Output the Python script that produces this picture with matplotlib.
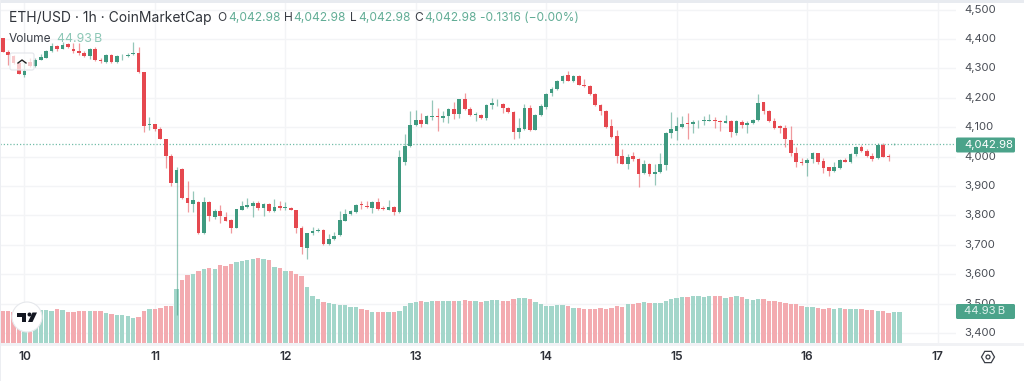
import numpy as np
import matplotlib
matplotlib.use("Agg")
import matplotlib.pyplot as plt
from matplotlib.patches import Circle, FancyBboxPatch, Polygon, RegularPolygon
from matplotlib.transforms import Affine2D

plt.rcParams['font.family'] = ['Inter', 'DejaVu Sans']

# hourly candles, first one 4h before the 10th
first_hour = -4
opens = [4405, 4357, 4342, 4317, 4276, 4323, 4308, 4329, 4337, 4359, 4377, 4366, 4383, 4365, 4359, 4353, 4343, 4366, 4328, 4323,
         4345, 4322, 4342, 4343, 4348, 4354, 4287, 4106, 4110, 4095, 4060, 4002, 3912, 3957, 3858, 3839, 3847, 3739, 3847, 3794,
         3816, 3796, 3784, 3758, 3818, 3830, 3832, 3841, 3826, 3838, 3814, 3831, 3825, 3826, 3819, 3757, 3691, 3739, 3748, 3751,
         3702, 3719, 3732, 3782, 3804, 3812, 3838, 3833, 3827, 3847, 3824, 3820, 3830, 3812, 3983, 4036, 4106, 4125, 4112, 4136,
         4138, 4133, 4138, 4163, 4145, 4195, 4163, 4140, 4143, 4130, 4175, 4181, 4180, 4166, 4153, 4085, 4094, 4165, 4092, 4141,
         4168, 4215, 4229, 4257, 4279, 4258, 4274, 4245, 4240, 4213, 4176, 4156, 4104, 4069, 4002, 3976, 4001, 3991, 3943, 3974,
         3942, 3947, 3972, 4079, 4087, 4100, 4116, 4110, 4120, 4120, 4121, 4125, 4121, 4115, 4121, 4082, 4118, 4108, 4113, 4124,
         4185, 4156, 4122, 4104, 4098, 4058, 4011, 3982, 3980, 3991, 4011, 3984, 3964, 3951, 3963, 3988, 3983, 4009, 4033, 4019,
         4003, 3994, 4040, 4001, 4041.5, 4041.5]
closes = [4357, 4346, 4317, 4281, 4292, 4308, 4329, 4338, 4359, 4377, 4366, 4381, 4374, 4358, 4351, 4342, 4365, 4328, 4324, 4344,
          4322, 4342, 4343, 4347, 4354, 4287, 4104, 4112, 4093, 4061, 4003, 3912, 3955, 3858, 3841, 3852, 3739, 3847, 3798, 3816,
          3798, 3782, 3758, 3821, 3832, 3836, 3842, 3826, 3839, 3814, 3830, 3826, 3829, 3819, 3758, 3692, 3739, 3748, 3752, 3702,
          3719, 3731, 3785, 3805, 3816, 3835, 3834, 3828, 3847, 3823, 3822, 3829, 3812, 4000, 4036, 4109, 4125, 4111, 4138, 4139,
          4134, 4138, 4163, 4145, 4195, 4162, 4140, 4145, 4130, 4175, 4183, 4183, 4165, 4153, 4085, 4096, 4165, 4091, 4142, 4172,
          4213, 4230, 4258, 4274, 4258, 4274, 4244, 4239, 4212, 4175, 4156, 4102, 4068, 4003, 3976, 3999, 3991, 3942, 3975, 3941,
          3947, 3974, 4082, 4093, 4104, 4111, 4110, 4118, 4122, 4123, 4123, 4121, 4118, 4121, 4083, 4121, 4108, 4113, 4125, 4184,
          4154, 4120, 4099, 4097, 4059, 4011, 3983, 3977, 3989, 4012, 3982, 3962, 3951, 3964, 3988, 3983, 4010, 4033, 4019, 4003,
          3993, 4041, 4000, 3998, 4044.5, 4042.98]
highs = [4405, 4362, 4345, 4320, 4322, 4335, 4335, 4350, 4362, 4385, 4380, 4390, 4388, 4385, 4385, 4358, 4370, 4372, 4335, 4348,
         4350, 4345, 4349, 4351, 4389, 4372, 4287, 4136, 4112, 4100, 4060, 4010, 3965, 3960, 3918, 3882, 3850, 3862, 3850, 3822,
         3834, 3813, 3787, 3823, 3848, 3860, 3848, 3850, 3843, 3842, 3855, 3850, 3847, 3828, 3820, 3765, 3742, 3762, 3756, 3753,
         3738, 3745, 3816, 3822, 3820, 3840, 3848, 3849, 3850, 3861, 3832, 3852, 3833, 4024, 4077, 4154, 4157, 4148, 4140, 4194,
         4164, 4155, 4165, 4187, 4197, 4218, 4170, 4152, 4146, 4178, 4198, 4195, 4184, 4170, 4156, 4132, 4178, 4175, 4145, 4178,
         4216, 4238, 4261, 4278, 4292, 4278, 4276, 4265, 4245, 4215, 4178, 4160, 4128, 4090, 4025, 4008, 4016, 3995, 3988, 3977,
         3974, 4012, 4085, 4153, 4136, 4138, 4147, 4124, 4125, 4137, 4144, 4134, 4123, 4143, 4124, 4124, 4124, 4122, 4128, 4212,
         4187, 4158, 4130, 4109, 4106, 4104, 4032, 3996, 3994, 4015, 4014, 3996, 3966, 3981, 3991, 3995, 4013, 4036, 4038, 4025,
         4013, 4047, 4045, 4010, 4045, 4043.2]
lows = [4357, 4312, 4315, 4281, 4272, 4305, 4305, 4330, 4335, 4356, 4360, 4365, 4370, 4354, 4347, 4338, 4332, 4326, 4318, 4320,
        4319, 4319, 4330, 4340, 4345, 4286, 4083, 4090, 4086, 4059, 3960, 3900, 3462, 3855, 3812, 3813, 3737, 3737, 3782, 3788,
        3773, 3780, 3742, 3756, 3817, 3824, 3796, 3818, 3797, 3812, 3812, 3820, 3820, 3817, 3740, 3670, 3653, 3735, 3745, 3700,
        3700, 3715, 3730, 3780, 3802, 3808, 3822, 3826, 3810, 3820, 3818, 3818, 3800, 3810, 3973, 4034, 4103, 4100, 4110, 4125,
        4088, 4117, 4115, 4128, 4132, 4160, 4137, 4122, 4128, 4124, 4163, 4172, 4150, 4150, 4060, 4064, 4091, 4088, 4090, 4138,
        4162, 4206, 4227, 4250, 4256, 4255, 4242, 4236, 4210, 4173, 4142, 4097, 4062, 3980, 3974, 3958, 3986, 3896, 3941, 3935,
        3904, 3945, 3956, 4063, 4058, 4097, 4060, 4079, 4097, 4107, 4121, 4098, 4088, 4113, 4067, 4072, 4096, 4080, 4112, 4122,
        4145, 4118, 4095, 4080, 4033, 4002, 3965, 3972, 3935, 3979, 3976, 3944, 3935, 3949, 3958, 3981, 3980, 4002, 4017, 4000,
        3985, 3992, 3998, 3986, 4041, 4041.5]
# volume in billions
volumes = [45.9, 46.4, 45.5, 45.4, 46.8, 46.8, 46.8, 47.3, 47.8, 46.8, 48.8, 47.8, 45.4, 45.4, 45.9, 46.4, 45.9, 45.9, 46.8, 43.0,
           42.1, 40.6, 40.6, 39.2, 36.8, 38.2, 46.4, 48.8, 49.7, 50.7, 54.0, 53.1, 77.9, 90.8, 97.5, 99.9, 103.7, 107.1, 107.5, 106.6,
           111.8, 110.9, 113.8, 116.6, 118.5, 119.5, 120.4, 121.9, 121.4, 119.5, 109.0, 107.5, 103.7, 104.2, 99.0, 97.0, 80.3, 67.9, 63.1, 59.8,
           58.3, 56.0, 54.5, 54.5, 51.6, 51.6, 49.2, 47.3, 45.4, 45.4, 45.4, 44.5, 44.5, 46.8, 53.1, 57.8, 59.8, 61.2, 59.8, 60.2,
           60.2, 61.2, 61.2, 61.2, 61.2, 61.7, 60.7, 60.7, 59.3, 60.7, 61.7, 61.7, 61.2, 61.2, 63.1, 64.5, 65.5, 63.6, 59.8, 56.9,
           54.0, 54.0, 55.0, 55.0, 53.1, 51.1, 50.7, 49.2, 49.2, 49.7, 50.2, 49.7, 50.2, 53.1, 52.6, 55.9, 56.4, 58.3, 58.8, 57.8,
           57.4, 57.4, 61.2, 63.1, 65.5, 66.4, 66.4, 67.4, 68.4, 66.0, 67.4, 68.4, 68.4, 65.5, 66.9, 67.4, 66.4, 63.6, 62.6, 63.6,
           64.1, 61.2, 60.2, 59.3, 57.4, 56.4, 55.9, 53.1, 51.6, 51.6, 50.2, 49.2, 50.7, 49.7, 50.2, 49.2, 48.8, 49.2, 48.8, 47.8,
           47.3, 46.4, 46.4, 44.0, 44.9, 44.93]

day_labels = ['10', '11', '12', '13', '14', '15', '16', '17']
day_hours = [0, 24, 48, 72, 96, 120, 144, 168]
price_ticks = [3400, 3500, 3600, 3700, 3800, 3900, 4000, 4100, 4200, 4300, 4400, 4500]
last_price = 4042.98
last_volume = 44.93

GREEN = '#3f9a80'
RED = '#e5484f'
GREEN_PALE = '#a3d6ca'
RED_PALE = '#f3abb0'
GREEN_TEXT = '#62ad96'
GRID = '#f3f4f6'
W, H = 1024, 381

hours = first_hour + np.arange(len(opens))
opens, closes, highs, lows = map(np.array, (opens, closes, highs, lows))
up = closes >= opens


def px(x, y):
    return x / W, 1 - y / H


fig = plt.figure(figsize=(W / 100, H / 100), dpi=100, facecolor='white')
ax = fig.add_axes([0, 1 - 343.3 / H, 956 / W, 340.3 / H])
ax.set_xlim(-4.5, 171.4)
ax.set_ylim(3365.5, 4522.4)
ax.set_facecolor('none')
for s in ax.spines.values():
    s.set_visible(False)
ax.set_xticks(day_hours)
ax.set_yticks(price_ticks)
ax.tick_params(length=0, labelleft=False, labelbottom=False)
ax.grid(color=GRID, lw=1)
ax.set_axisbelow(True)

# volume pane shares the bottom of the price pane
vol = ax.twinx()
vol.set_ylim(0, 488.4)
vol.set_yticks([])
for s in vol.spines.values():
    s.set_visible(False)
vol.bar(hours, volumes, width=0.8, color=[GREEN_PALE if u else RED_PALE for u in up], zorder=1)

price = ax.twinx()
price.set_ylim(ax.get_ylim())
price.set_yticks([])
for s in price.spines.values():
    s.set_visible(False)
price.axhline(last_price, color='#72bda8', lw=0.9, ls=(0, (1, 1.6)), zorder=2)
colors = [GREEN if u else RED for u in up]
price.vlines(hours, lows, highs, colors=colors, lw=0.9, alpha=0.55, zorder=3)
price.bar(hours, np.abs(closes - opens), bottom=np.minimum(opens, closes), width=0.68, color=colors, zorder=4)

# bottom strip, top strip, left edge
fig.add_artist(plt.Rectangle(px(0, 346), 1, 3 / H, color='#f1f2f5', lw=0))
fig.add_artist(plt.Rectangle(px(0, 3), 1, 3 / H, color='#e8ebf0', lw=0))
fig.add_artist(plt.Rectangle(px(0, 381), 1 / W, 1, color='#eceef2', lw=0))

# TradingView logo
fig_px = Affine2D().scale(1 / W, -1 / H).translate(0, 1) + fig.transFigure
fig.add_artist(Circle((27, 317), 15, transform=fig_px, fc='white', ec='#e6e8ec', lw=0.8, zorder=6))
for pts in ([(17, 312.5), (26, 312.5), (26, 322), (22, 322), (22, 317), (17, 317)],
            [(32.5, 312.5), (37, 312.5), (32.5, 322), (28, 322)]):
    fig.add_artist(Polygon(pts, closed=True, transform=fig_px, fc='#131722', lw=0, zorder=7))
fig.add_artist(Circle((29.5, 314.5), 2, transform=fig_px, fc='#131722', lw=0, zorder=7))

# collapse button over the first candles
fig.add_artist(FancyBboxPatch((10, 53), 24, 17, boxstyle='round,pad=0,rounding_size=2', transform=fig_px,
                              fc=(1, 1, 1, 0.7), ec='#e3e5ea', lw=0.8, zorder=6))
fig.add_artist(plt.Line2D([18, 22, 26], [63, 60, 63], transform=fig_px, color='#222', lw=1, zorder=7))


def label(x, y, s, color='#3b3f47', size=9, ha='left', weight='normal', z=8):
    fig.text(*px(x, y), s, color=color, fontsize=size, ha=ha, va='center', weight=weight, zorder=z)


label(9, 18, 'ETH/USD · 1h · CoinMarketCap', size=10, color='#30343b')
for x, s in ((217.5, 'O'), (284, 'H'), (350, 'L'), (414.5, 'C')):
    label(x, 18, s, size=8.6)
for x in (228, 293.5, 358, 424):
    label(x, 18, f'{last_price:,.2f}', color=GREEN_TEXT, size=8.6)
label(480, 18, '-0.1316 (−0.00%)', color=GREEN_TEXT, size=8.6)
label(9, 39.5, 'Volume', size=8.6)
label(57, 39.5, f'{last_volume:.2f}\u2009B', color='#8cc7b6', size=8.8)

for p in price_ticks:
    y = 156.67 + (4000 - p) / 3.4
    label(964, y, f'{p:,}', size=8.2, color='#4a4e56', z=5)
for h, s in zip(day_hours, day_labels):
    label(24.5 + 5.435 * h, 357.5, s, size=8.6, ha='center', weight='semibold', color='#2d3038')

# last value tags
for y0, y1, s, col in ((137.5, 152.5, f'{last_price:,.2f}', 'white'), (304, 319, f'{last_volume:.2f}\u2009B', '#dff1ec')):
    fig.add_artist(FancyBboxPatch((956, y0), 59, y1 - y0, boxstyle='round,pad=0,rounding_size=1.5', transform=fig_px,
                                  fc='#4ba38a', lw=0, zorder=7))
    label(964, (y0 + y1) / 2, s, size=8.2, color=col)

# settings hexagon
fig.add_artist(RegularPolygon((988, 357), 6, radius=6.5, orientation=np.pi / 6, transform=fig_px,
                              fc='white', ec='#3a3e46', lw=0.9, zorder=7))
fig.add_artist(Circle((988, 357), 2, transform=fig_px, fc='white', ec='#3a3e46', lw=0.9, zorder=8))

fig.savefig('out.png', dpi=100)
